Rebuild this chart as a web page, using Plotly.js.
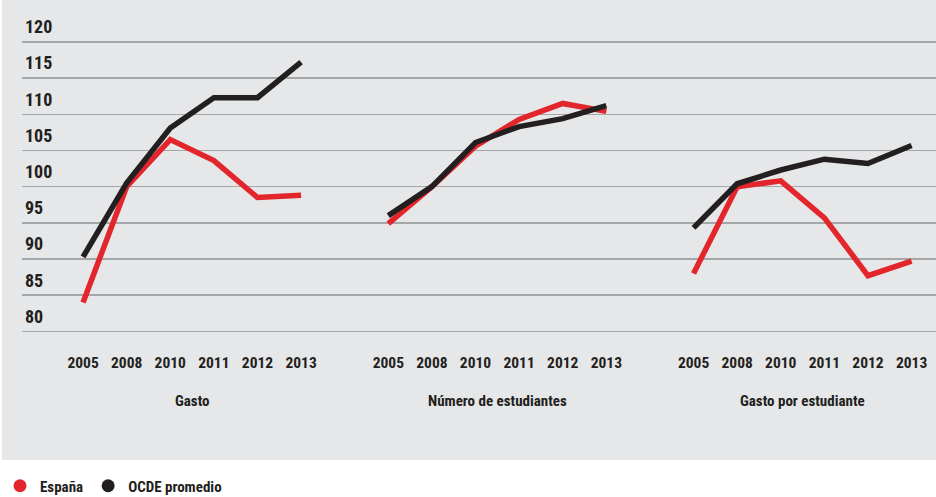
<!DOCTYPE html>
<html>
<head>
<meta charset="utf-8">
<script src="https://cdn.plot.ly/plotly-3.0.1.min.js"></script>
<style>
  html, body { margin: 0; padding: 0; background: #ffffff; }
  #bg { position: absolute; left: 2px; top: 0; width: 934px; height: 460px; background: #e6e7e9; }
  #chart { position: absolute; left: 0; top: 0; width: 936px; height: 497px; }
</style>
</head>
<body>
<div id="bg"></div>
<div id="chart"></div>
<script>
// ---- Data (index, base 2008 = 100) ----
const years = ['2005', '2008', '2010', '2011', '2012', '2013'];
const panels = ['Gasto', 'Número de estudiantes', 'Gasto por estudiante'];

const espanaGasto       = [84.0, 100.0, 106.5, 103.6, 98.5, 98.8];
const espanaEstudiantes = [94.9, 100.0, 105.6, 109.3, 111.5, 110.4];
const espanaPorEstud    = [88.0, 100.0, 100.8, 95.7, 87.7, 89.7];

const ocdeGasto         = [90.3, 100.5, 108.1, 112.3, 112.3, 117.2];
const ocdeEstudiantes   = [96.0, 100.0, 106.1, 108.3, 109.4, 111.2];
const ocdePorEstud      = [94.3, 100.4, 102.3, 103.8, 103.2, 105.7];

const yTicks = [80, 85, 90, 95, 100, 105, 110, 115, 120];

const seriesNames = ['España', 'OCDE promedio'];
const seriesColors = ['#e3262b', '#231f20'];

// ---- Build traces ----
const GAP = 7; // category slots per panel (6 years + spacer)
const espana = [espanaGasto, espanaEstudiantes, espanaPorEstud];
const ocde = [ocdeGasto, ocdeEstudiantes, ocdePorEstud];

function buildXY(groups) {
  const xs = [], ys = [];
  groups.forEach((vals, p) => {
    vals.forEach((v, i) => { xs.push(p * GAP + i); ys.push(v); });
    xs.push(null); ys.push(null);
  });
  return { xs, ys };
}

const tickvals = [], ticktext = [];
panels.forEach((_, p) => years.forEach((yr, i) => { tickvals.push(p * GAP + i); ticktext.push(yr); }));

const FONT = 'Roboto Condensed, Liberation Sans Narrow, DejaVu Sans Condensed, Arial Narrow, sans-serif';
const TXT = '#231f20';

const traces = [];
[espana, ocde].forEach((groups, s) => {
  const d = buildXY(groups);
  traces.push({
    x: d.xs, y: d.ys, mode: 'lines', type: 'scatter',
    line: { color: seriesColors[s], width: 5.5, shape: 'linear' },
    connectgaps: false, showlegend: false, hoverinfo: 'skip'
  });
});
seriesNames.forEach((n, s) => {
  traces.push({
    x: [null], y: [null], mode: 'markers', type: 'scatter', name: n,
    marker: { color: seriesColors[s], size: 13 }, showlegend: true
  });
});

const annotations = panels.map((name, p) => ({
  x: p * GAP + (years.length - 1) / 2, xref: 'x',
  y: -0.206, yref: 'paper',
  text: name, showarrow: false, xanchor: 'center', yanchor: 'middle',
  font: { family: FONT, size: 15, weight: 700, color: TXT }
}));

const layout = {
  width: 936, height: 497,
  margin: { l: 22, r: 0, t: 13.4, b: 161.7, pad: 0 },
  paper_bgcolor: 'rgba(0,0,0,0)',
  plot_bgcolor: 'rgba(0,0,0,0)',
  font: { family: FONT, color: TXT },
  xaxis: {
    range: [-1.4, 19.56], tickvals: tickvals, ticktext: ticktext,
    showgrid: false, zeroline: false, showline: false, ticks: '',
    ticklabelstandoff: 16,
    tickfont: { family: FONT, size: 15.5, weight: 700, color: TXT },
    fixedrange: true
  },
  yaxis: {
    range: [79.5, 124], tickvals: yTicks,
    ticklabelposition: 'inside', ticklabelshift: -15,
    showgrid: true, gridcolor: '#a5a6a8', gridwidth: 1.5,
    zeroline: false, showline: false, ticks: '',
    tickfont: { family: FONT, size: 18, weight: 700, color: TXT },
    fixedrange: true
  },
  showlegend: true,
  legend: {
    orientation: 'h', xref: 'container', yref: 'container',
    x: 0, y: 11 / 497, xanchor: 'left', yanchor: 'middle',
    bgcolor: 'rgba(0,0,0,0)', itemwidth: 30,
    font: { family: FONT, size: 15, weight: 700, color: TXT }
  },
  annotations: annotations,
  hovermode: false
};

Plotly.newPlot('chart', traces, layout, { staticPlot: true, displayModeBar: false });
</script>
</body>
</html>
